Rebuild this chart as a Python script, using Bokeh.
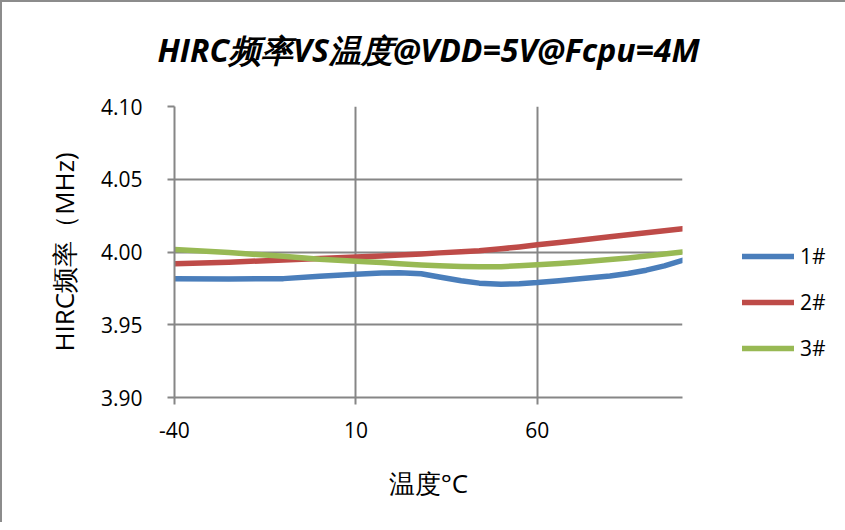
from bokeh.plotting import figure
from bokeh.models import Range1d, FixedTicker, NumeralTickFormatter, Legend, LegendItem, Title
from bokeh.embed import file_html
from bokeh.resources import INLINE

# ---- data ----
temps = [-40, -25, -10, 0, 10, 17, 22, 28, 33, 39, 44, 50, 55, 60, 66, 71, 80, 85, 90, 95, 100]
s1 = [3.9817, 3.9815, 3.9817, 3.9833, 3.9847, 3.9855, 3.9857, 3.9850, 3.9828, 3.9803, 3.9786, 3.9778,
      3.9782, 3.9790, 3.9803, 3.9815, 3.9835, 3.9852, 3.9875, 3.9905, 3.9943]
s2 = [3.9919, 3.9930, 3.9945, 3.9956, 3.9966, 3.9973, 3.9980, 3.9987, 3.9994, 4.0001, 4.0008, 4.0022,
      4.0035, 4.0050, 4.0066, 4.0079, 4.0105, 4.0119, 4.0132, 4.0146, 4.0160]
s3 = [4.0018, 3.9996, 3.9971, 3.9950, 3.9937, 3.9928, 3.9919, 3.9911, 3.9905, 3.9900, 3.9898, 3.9899,
      3.9905, 3.9913, 3.9921, 3.9929, 3.9948, 3.9959, 3.9972, 3.9986, 4.0000]
series_names = ["1#", "2#", "3#"]
series_colors = ["#4A7EBB", "#BE4B48", "#98B954"]
x_ticks = [-40, 10, 60]
x_tick_text = {-40: "-40", 10: "10", 60: "60"}
y_ticks = [3.90, 3.95, 4.00, 4.05, 4.10]
title_text = "HIRC频率VS温度@VDD=5V@Fcpu=4M"
x_label = "温度°C"
y_label = "HIRC频率（MHz)"

GRID = "#868686"
FONT = "Open Sans"

p = figure(
    frame_width=508, frame_height=291,
    min_border_left=172, min_border_right=155,
    min_border_top=104, min_border_bottom=125,
    x_range=Range1d(-40, 100), y_range=Range1d(3.90, 4.10),
    output_backend="svg", toolbar_location=None,
    title=title_text,
)
p.styles = {"border-left": "2px solid #8c8c8c", "border-top": "2px solid #8c8c8c"}
p.outline_line_color = None
p.background_fill_color = "white"
p.border_fill_color = "white"

p.title.text_font = FONT
p.title.text_font_size = "32px"
p.title.text_font_style = "bold italic"
p.title.text_color = "black"
p.title.align = "center"
p.title.offset = 25
p.title.vertical_align = "top"
p.title.standoff = 20

# empty spacer panel between the title and the plot area
p.add_layout(Title(text=" ", text_font_size="20px", standoff=0), "above")

for ax in (p.xaxis[0], p.yaxis[0]):
    ax.axis_line_color = GRID
    ax.axis_line_width = 2
    ax.major_tick_line_color = GRID
    ax.major_tick_line_width = 2
    ax.major_tick_out = 7
    ax.major_tick_in = 0
    ax.minor_tick_line_color = None
    ax.major_label_text_font = FONT
    ax.major_label_text_font_size = "21px"
    ax.major_label_text_color = "black"
    ax.axis_label_text_font = FONT
    ax.axis_label_text_font_size = "26px"
    ax.axis_label_text_font_style = "normal"
    ax.axis_label_text_color = "black"

p.xaxis.ticker = FixedTicker(ticks=x_ticks)
p.xaxis.major_label_overrides = x_tick_text
p.yaxis.ticker = FixedTicker(ticks=y_ticks)
p.yaxis.formatter = NumeralTickFormatter(format="0.00")
p.xaxis.axis_label = x_label
p.yaxis.axis_label = y_label
p.xaxis.major_label_standoff = 17
p.yaxis.major_label_standoff = 25
p.xaxis.axis_label_standoff = 24
p.yaxis.axis_label_standoff = 16

p.xgrid.ticker = FixedTicker(ticks=x_ticks)
p.ygrid.ticker = FixedTicker(ticks=y_ticks)
for g in (p.xgrid[0], p.ygrid[0]):
    g.grid_line_color = GRID
    g.grid_line_width = 2

items = []
for name, ys, c in zip(series_names, [s1, s2, s3], series_colors):
    r = p.line(temps, ys, line_color=c, line_width=5.5, line_join="round", line_cap="round")
    items.append(LegendItem(label=name, renderers=[r]))

legend = Legend(items=items, location=(60, 34))
legend.padding = 0
legend.margin = 0
legend.border_line_color = None
legend.background_fill_alpha = 0
legend.glyph_width = 52
legend.glyph_height = 30
legend.label_height = 30
legend.spacing = 16
legend.label_standoff = 6
legend.label_text_font = FONT
legend.label_text_font_size = "21px"
legend.label_text_color = "black"
p.add_layout(legend, "right")

open("out.html", "w").write(file_html(p, INLINE))
